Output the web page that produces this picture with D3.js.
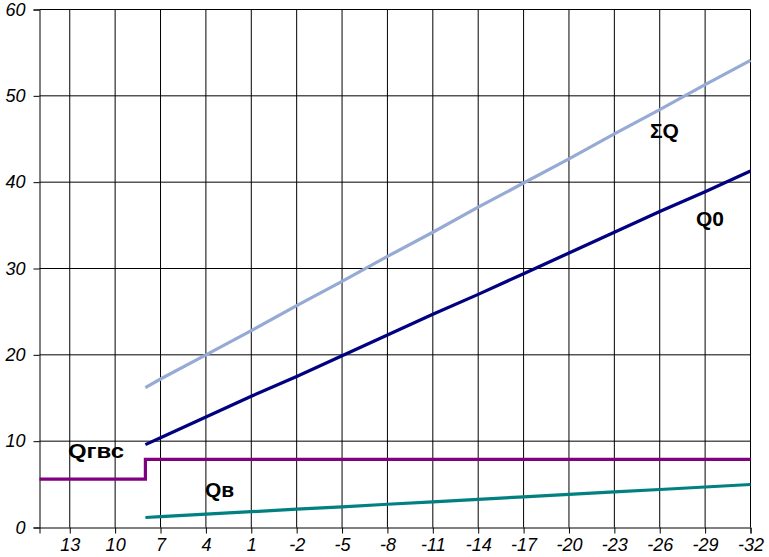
<!DOCTYPE html>
<html><head><meta charset="utf-8">
<script src="https://cdn.jsdelivr.net/npm/d3@7"></script>
<style>body{margin:0;background:#fff}svg{display:block}</style>
</head><body>
<svg id="c" width="769" height="557"></svg>
<script>
const xTicks = [13,10,7,4,1,-2,-5,-8,-11,-14,-17,-20,-23,-26,-29,-32];
const yTicks = [0,10,20,30,40,50,60];
const temps = [8,7,4,1,-2,-5,-8,-11,-14,-17,-20,-23,-26,-29,-32];
const q0 = [9.6,10.4,12.8,15.2,17.5,19.9,22.3,24.7,27.0,29.4,31.8,34.2,36.6,38.9,41.3];
const qSum = [16.2,17.2,20.0,22.8,25.7,28.5,31.4,34.2,37.1,39.9,42.7,45.6,48.4,51.3,54.1];
const qV = [1.16,1.26,1.54,1.83,2.12,2.40,2.69,2.97,3.26,3.55,3.83,4.12,4.40,4.69,4.98];
const gvsTemps = [15,8,8,-32];
const gvsVals = [5.6,5.6,7.9,7.9];

const svg = d3.select("#c");
const L=39.5,R=750.5,T=9.5,B=527.5;
const x = d3.scaleLinear().domain([15,-32]).range([L,R]);
const y = d3.scaleLinear().domain([0,60]).range([B,T]);

// gridlines
svg.append("g").selectAll("line").data(yTicks.filter(d=>d>0)).join("line")
  .attr("x1",L).attr("x2",R).attr("y1",d=>y(d)).attr("y2",d=>y(d))
  .attr("stroke","#000").attr("stroke-width",1);
svg.append("g").selectAll("line").data(xTicks).join("line")
  .attr("x1",d=>x(d)).attr("x2",d=>x(d)).attr("y1",T).attr("y2",B)
  .attr("stroke","#000").attr("stroke-width",1);

// axes
const ya = svg.append("g").attr("transform",`translate(${L},0)`)
  .call(d3.axisLeft(y).tickValues(yTicks).tickSize(6).tickPadding(8).tickFormat(d3.format("d")));
const xa = svg.append("g").attr("transform",`translate(0,${B})`)
  .call(d3.axisBottom(x).tickValues(xTicks).tickSize(6).tickPadding(5).tickFormat(d=>d<0?"-"+Math.abs(d):d));
[ya,xa].forEach(a=>{
  a.select(".domain").attr("stroke","#000").attr("stroke-width",1);
  a.selectAll(".tick line").attr("stroke","#000");
  a.selectAll("text").attr("fill","#000").style("font-family","Arial, 'Liberation Sans', sans-serif")
    .style("font-style","italic").style("font-size","18px");
});
xa.selectAll("text").attr("dy","0.72em");

const line = d3.line().x(d=>x(d[0])).y(d=>y(d[1]));
function draw(ts,vs,color){
  svg.append("path").datum(ts.map((t,i)=>[t,vs[i]])).attr("d",line)
    .attr("fill","none").attr("stroke",color).attr("stroke-width",3.2);
}
draw(temps,qSum,"#95AAD4");
draw(temps,q0,"#000080");
draw(gvsTemps,gvsVals,"#800080");
draw(temps,qV,"#008080");

const labels = [["ΣQ",650,138,null],["Q0",696,226,null],["Qгвс",68,458,56],["Qв",205,497,null]];
svg.append("g").selectAll("text").data(labels).join("text")
  .attr("x",d=>d[1]).attr("y",d=>d[2]).text(d=>d[0])
  .each(function(d){ if(d[3]) d3.select(this).attr("textLength",d[3]).attr("lengthAdjust","spacingAndGlyphs"); })
  .style("font-family","Arial, 'Liberation Sans', sans-serif").style("font-weight","bold")
  .style("font-size","21px").attr("fill","#000");
</script>
</body></html>
